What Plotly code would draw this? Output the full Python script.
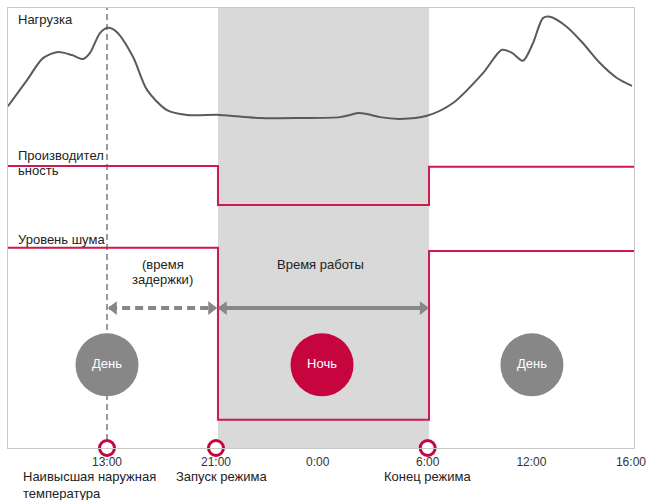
import plotly.graph_objects as go

# ---- data ----
tick_labels = ["13:00", "21:00", "0:00", "6:00", "12:00", "16:00"]
tick_pos = [1.0, 2.04, 3.01, 4.06, 5.05, 6.0]

load_x = [0.055, 0.237, 0.389, 0.532, 0.666, 0.771, 0.838, 0.933, 1.010, 1.095, 1.248,
          1.382, 1.573, 1.763, 2.078, 2.460, 2.842, 3.223, 3.319, 3.385, 3.481, 3.605,
          3.796, 4.053, 4.302, 4.588, 4.769, 4.865, 4.969, 5.065, 5.160, 5.227, 5.389,
          5.542, 5.704, 5.866, 6.010]
load_y = [77.7, 83.6, 88.6, 90.0, 89.3, 88.4, 89.8, 94.3, 95.5, 94.5, 88.9,
          81.4, 76.8, 75.7, 75.7, 75.0, 75.0, 75.2, 75.7, 76.1, 75.9, 75.2,
          74.8, 75.5, 78.4, 85.2, 90.5, 89.8, 88.0, 92.0, 97.7, 98.0, 95.7,
          92.0, 87.5, 84.1, 82.3]

x_left, x_right = 0.0553, 6.029
mode_start, mode_end = 2.059, 4.073
peak_temp = 1.0

perf_levels = [64.1, 55.2, 63.9]      # before / during / after mode
noise_levels = [45.5, 6.4, 44.8]

circle_x = [1.0, 3.052, 5.055]
circle_y = [18.9, 18.9, 18.9]
circle_text = ["День", "Ночь", "День"]

event_x = [1.0, 2.04, 4.06]
event_text = ["Наивысшая наружная<br>температура", "Запуск режима", "Конец режима"]

RED = "#CF1A4E"
RED_DARK = "#C6053F"
GRAY = "#878787"
FONT = "Liberation Sans, Arial, sans-serif"

fig = go.Figure()

# shaded mode band
fig.add_shape(type="rect", xref="x", yref="paper", x0=mode_start, x1=mode_end, y0=0, y1=1,
              fillcolor="#D9D9D9", line_width=0, layer="below")

# dashed vertical line at highest outside temperature
fig.add_trace(go.Scatter(x=[peak_temp, peak_temp], y=[1.8, 100], mode="lines",
                         line=dict(color="#9A9A9A", width=2, dash="6px,4px"),
                         hoverinfo="skip", showlegend=False))

# load curve
fig.add_trace(go.Scatter(x=load_x, y=load_y, mode="lines",
                         line=dict(color="#5A5A5A", width=2, shape="spline", smoothing=0.8),
                         showlegend=False))

# performance step
fig.add_trace(go.Scatter(x=[x_left, mode_start, mode_start, mode_end, mode_end, x_right],
                         y=[perf_levels[0], perf_levels[0], perf_levels[1], perf_levels[1],
                            perf_levels[2], perf_levels[2]],
                         mode="lines", line=dict(color=RED, width=2), showlegend=False))
# noise step
fig.add_trace(go.Scatter(x=[x_left, mode_start, mode_start, mode_end, mode_end, x_right],
                         y=[noise_levels[0], noise_levels[0], noise_levels[1], noise_levels[1],
                            noise_levels[2], noise_levels[2]],
                         mode="lines", line=dict(color=RED, width=2), showlegend=False))

# arrows
arrow_y = 31.8
off = 0.045
fig.add_trace(go.Scatter(x=[event_x[0] + 0.02, event_x[1] - 0.02], y=[arrow_y, arrow_y], mode="lines",
                         line=dict(color=GRAY, width=4, dash="8px,5px"), showlegend=False))
fig.add_trace(go.Scatter(x=[event_x[0] + 0.02 + off, event_x[1] - off], y=[arrow_y, arrow_y],
                         mode="markers",
                         marker=dict(symbol=["triangle-left", "triangle-right"], size=12, color=GRAY),
                         showlegend=False))
fig.add_trace(go.Scatter(x=[mode_start + 0.01, event_x[2] - 0.01], y=[arrow_y, arrow_y], mode="lines",
                         line=dict(color=GRAY, width=4), showlegend=False))
fig.add_trace(go.Scatter(x=[mode_start + 0.01 + off, event_x[2] - off], y=[arrow_y, arrow_y],
                         mode="markers",
                         marker=dict(symbol=["triangle-left", "triangle-right"], size=12, color=GRAY),
                         showlegend=False))

# day / night circles
fig.add_trace(go.Scatter(x=circle_x, y=circle_y, mode="markers+text", text=circle_text,
                         textposition="middle center",
                         textfont=dict(color="white", size=13, family=FONT),
                         marker=dict(size=63, color=[GRAY, RED_DARK, GRAY], line_width=0),
                         showlegend=False))

# event markers on axis
fig.add_trace(go.Scatter(x=event_x, y=[0, 0, 0], mode="markers", cliponaxis=False,
                         marker=dict(size=15, color="white", line=dict(color=RED_DARK, width=3)),
                         showlegend=False))

anns = []
def txt(x, y, s, anchor="left", size=13, color="#222", yref="y", align="center"):
    anns.append(dict(x=x, y=y, xref="x", yref=yref, text=s, showarrow=False, xanchor=anchor,
                     yanchor="middle", align=align,
                     font=dict(size=size, color=color, family=FONT)))

txt(0.132, 97.3, "Нагрузка")
txt(0.132, 66.4, "Производител")
txt(0.132, 63.0, "ьность")
txt(0.132, 47.3, "Уровень шума")
txt(1.534, 41.6, "(время", anchor="center")
txt(1.534, 38.2, "задержки)", anchor="center")
txt(3.042, 41.6, "Время работы", anchor="center")

# event descriptions below axis
txt(0.18, -0.084, event_text[0], yref="paper", size=13, align="left")
txt(event_x[1] + 0.05, -0.065, event_text[1], anchor="center", yref="paper", size=13)
txt(event_x[2], -0.065, event_text[2], anchor="center", yref="paper", size=13)

fig.update_layout(
    width=649, height=500,
    margin=dict(l=8, r=15, t=8, b=52),
    paper_bgcolor="white", plot_bgcolor="white",
    font=dict(family=FONT, size=12, color="#333"),
    annotations=anns,
    showlegend=False,
    xaxis=dict(range=[x_left, x_right], tickvals=tick_pos, ticktext=tick_labels,
               showgrid=False, zeroline=False, showline=True, linecolor="#C8C8C8",
               linewidth=1, mirror=True, ticks="", ticklabelstandoff=3, automargin=False,
               tickfont=dict(size=12, color="#333")),
    yaxis=dict(range=[0, 100], showticklabels=False, showgrid=False, zeroline=False,
               showline=True, linecolor="#C8C8C8", linewidth=1, mirror=True, ticks="",
               automargin=False),
)

fig.write_html("out.html", config={"displayModeBar": False},
               post_script="document.body.style.margin='0';")
